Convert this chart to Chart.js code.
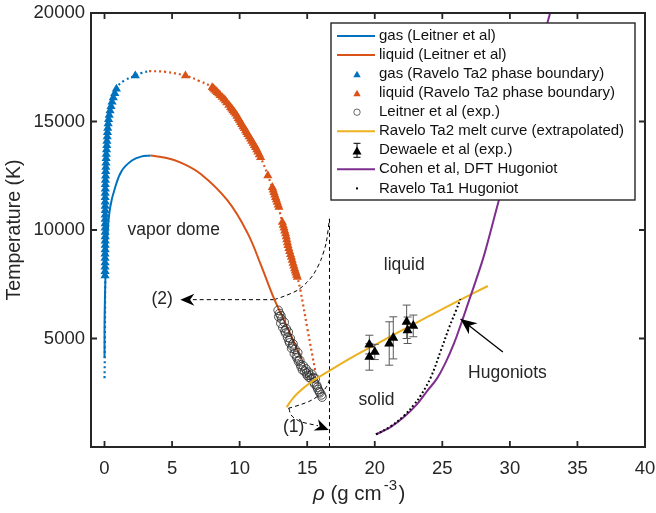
<!DOCTYPE html>
<html>
<head>
<meta charset="utf-8">
<script src="https://cdn.jsdelivr.net/npm/chart.js@4/dist/chart.umd.min.js"></script>
<style>
  html, body { margin: 0; padding: 0; background: #fff; }
  canvas { display: block; }
</style>
</head>
<body>
<canvas id="grafico" width="656" height="513"></canvas>
<script>
// densidade (g/cm3) e temperatura (K) de cada curva
const gasLeitnerRho = [0, 0.01, 0.08, 0.22, 0.42, 0.79, 1.29, 2.03, 2.7, 3.4];
const gasLeitnerT = [4100, 6000, 8000, 9800, 11050, 11970, 12740, 13200, 13380, 13430];

const liqLeitnerRho = [3.4, 4.5, 5.6, 7.1, 9.1, 10.56, 11.6, 12.54, 13.5, 14.6];
const liqLeitnerT = [13430, 13330, 13120, 12590, 11360, 9890, 8350, 6850, 5550, 4050];

// pontos (triângulos) da fronteira de fase Ravelo Ta2
const gasRaveloRho = [0.04, 0.04, 0.04, 0.04, 0.04, 0.04, 0.05, 0.05, 0.05, 0.05, 0.05, 0.05, 0.05, 0.05, 0.05,
  0.05, 0.05, 0.05, 0.05, 0.05, 0.06, 0.06, 0.07, 0.08, 0.09, 0.1, 0.11, 0.12, 0.13, 0.15, 0.17, 0.18, 0.2,
  0.22, 0.24, 0.27, 0.3, 0.35, 0.41, 0.48, 0.56, 0.65, 0.76, 0.88, 2.28];
const gasRaveloT = [7900, 8100, 8300, 8500, 8700, 8900, 9100, 9300, 9500, 9700, 9900, 10100, 10300, 10500, 10700,
  10900, 11100, 11300, 11500, 11700, 11900, 12100, 12300, 12500, 12700, 12900, 13100, 13300, 13500, 13700, 13900,
  14100, 14300, 14500, 14700, 14900, 15100, 15300, 15500, 15700, 15900, 16100, 16300, 16500, 17110];

const liqRaveloRho = [5.99, 7.97, 8.06, 8.15, 8.25, 8.34, 8.45, 8.55, 8.7, 8.83, 8.95, 9.05, 9.2, 9.33, 9.42, 9.5,
  9.6, 9.7, 9.8, 9.9, 9.98, 10.07, 10.16, 10.25, 10.35, 10.44, 10.52, 10.6, 10.7, 10.81, 10.9, 11.0, 11.09, 11.18,
  11.27, 11.35, 11.45, 11.55, 12.09, 12.42, 12.48, 12.54, 12.6, 12.66, 12.72, 12.78, 12.85, 12.91, 13.16, 13.22,
  13.28, 13.34, 13.4, 13.45, 13.49, 13.54, 13.58, 13.64, 13.7, 13.77, 13.83, 13.89, 13.95, 14.01, 14.07, 14.12,
  14.17, 14.22, 14.27];
const liqRaveloT = [17110, 16570, 16520, 16460, 16400, 16340, 16280, 16210, 16120, 16040, 15960, 15870, 15760,
  15650, 15580, 15500, 15430, 15350, 15250, 15150, 15060, 14960, 14870, 14770, 14680, 14580, 14500, 14410, 14300,
  14200, 14100, 14000, 13900, 13810, 13700, 13600, 13480, 13350, 12510, 11970, 11850, 11740, 11620, 11510, 11400,
  11280, 11160, 11050, 10360, 10230, 10100, 9960, 9830, 9700, 9560, 9420, 9290, 9150, 9020, 8880, 8750, 8610,
  8480, 8350, 8220, 8120, 8020, 7920, 7830];

// linhas pontilhadas que ligam os triângulos
const gasPontilhadoRho = [0, 0.02, 0.05, 0.07, 0.13, 0.3, 0.56, 0.92, 1.5, 2.28, 2.8, 3.3];
const gasPontilhadoT = [3170, 4100, 7900, 12300, 13500, 15100, 15900, 16570, 16900, 17110, 17250, 17320];
const liqPontilhadoRho = [3.3, 4.5, 5.99, 7.0, 7.97, 9.33, 10.81, 11.55, 12.09, 12.66, 13.16, 13.58, 14.07, 14.27,
  14.5, 15.0, 15.63];
const liqPontilhadoT = [17320, 17290, 17110, 16870, 16570, 15650, 14200, 13350, 12510, 11510, 10360, 9290, 8220,
  7830, 7220, 5500, 3400];

// medidas experimentais de Leitner (círculos)
const expLeitnerRho = [12.85, 12.95, 12.9, 13.05, 13.1, 13.05, 13.3, 13.2, 13.35, 13.45, 13.4, 13.6, 13.55, 13.65,
  13.75, 13.7, 13.95, 13.85, 13.9, 14.1, 14.05, 14.2, 14.3, 14.25, 14.35, 14.45, 14.5, 14.55, 14.7, 14.65, 14.8,
  14.9, 14.95, 15.0, 15.1, 15.2, 15.15, 15.35, 15.3, 15.45, 15.6, 15.5, 15.55, 15.7, 15.75, 15.8, 15.9, 15.95,
  16.05, 16.1];
const expLeitnerT = [6300, 6150, 6000, 6050, 5900, 5700, 5750, 5500, 5350, 5450, 5250, 5300, 5050, 4900, 5000,
  4800, 4750, 4550, 4650, 4500, 4300, 4200, 4350, 4100, 3950, 4000, 3800, 3700, 3750, 3550, 3500, 3600, 3400,
  3300, 3450, 3300, 3200, 3350, 3150, 3200, 3150, 3000, 2900, 2850, 2750, 2650, 2550, 2500, 2400, 2300];

// curva de fusão extrapolada
const fusaoRho = [13.48, 13.8, 14.27, 15.26, 16.5, 18.6, 20, 22, 24, 26, 28.37];
const fusaoT = [1830, 2130, 2470, 2980, 3460, 4230, 4700, 5370, 6030, 6680, 7420];

// Dewaele et al, com barras de erro
const dewaeleRho = [19.6, 20.0, 19.6, 21.07, 21.37, 22.36, 22.43, 22.85];
const dewaeleT = [4720, 4380, 4150, 4770, 5030, 5770, 5380, 5580];
const dewaeleErro = [430, 350, 610, 1000, 970, 770, 610, 500];

// Hugoniots
const cohenRho = [20.09, 21.2, 22.18, 23.1, 23.9, 24.6, 25.25, 25.85, 26.4, 26.95, 27.5, 28.12, 29.11, 30.0, 31.0,
  32.0, 33.0];
const cohenT = [580, 930, 1390, 1950, 2600, 3150, 3900, 4750, 5700, 6700, 7700, 8900, 11200, 13250, 15550, 17800,
  20050];
const ta1Rho = [20.09, 21.2, 22.18, 22.9, 23.42, 24.16, 24.9, 25.52, 26.02, 26.34];
const ta1T = [580, 960, 1450, 1950, 2390, 3230, 4460, 5530, 6300, 6810];

// caminhos tracejados (1) e (2)
const tracoVertRho = [16.65, 16.65];
const tracoVertT = [0, 10520];
const tracoDoisRho = [12.54, 6.5];
const tracoDoisT = [6790, 6790];
const curvaDoisRho = [12.54, 13.3, 14.27, 15.0, 15.5, 16.0, 16.4, 16.65];
const curvaDoisT = [6790, 6950, 7220, 7600, 7990, 8600, 9400, 10520];
const curvaUmRho = [13.6, 14.5, 15.3, 16.0, 16.45, 16.65];
const curvaUmT = [1780, 1950, 2150, 2450, 2800, 3100];
const setaUmRho = [13.65, 13.75, 13.95, 14.5, 15.2, 15.8];
const setaUmT = [1780, 1550, 1380, 1170, 1060, 980];

// marcas dos eixos
const ticksRho = [0, 5, 10, 15, 20, 25, 30, 35, 40];
const ticksT = [5000, 10000, 15000, 20000];

// textos escritos dentro do gráfico
const notas = [
  { texto: 'vapor dome', rho: 5.12, t: 9980 },
  { texto: 'liquid', rho: 22.18, t: 8370 },
  { texto: 'solid', rho: 20.13, t: 2160 },
  { texto: 'Hugoniots', rho: 29.82, t: 3390 },
  { texto: '(2)', rho: 4.26, t: 6790 },
  { texto: '(1)', rho: 14.0, t: 935 }
];
// setas: de onde saem e onde fica a ponta
const setas = [
  { de: [6.5, 6790], ponta: [5.61, 6790], linha: false },
  { de: [15.8, 980], ponta: [16.6, 780], linha: false },
  { de: [29.48, 4380], ponta: [26.35, 5900], linha: true }
];

const familia = '"Liberation Sans", Arial, Helvetica, sans-serif';
const corEixo = '#262626';
const azul = '#0072BD';
const laranja = '#D95319';
const amarelo = '#EDB120';
const roxo = '#7E2F8E';

function pares(xs, ys) {
  return xs.map((x, i) => ({ x: x, y: ys[i] }));
}

function linha(rotulo, xs, ys, cor, largura, ordem, extra) {
  return Object.assign({
    label: rotulo,
    data: pares(xs, ys),
    showLine: true,
    borderColor: cor,
    backgroundColor: cor,
    borderWidth: largura,
    pointRadius: 0,
    tension: 0.4,
    order: ordem
  }, extra || {});
}

function marcador(rotulo, xs, ys, estilo, raio, cor, ordem, extra) {
  return Object.assign({
    label: rotulo,
    data: pares(xs, ys),
    showLine: false,
    pointStyle: estilo,
    pointRadius: raio,
    backgroundColor: cor,
    borderColor: cor,
    borderWidth: 0,
    order: ordem
  }, extra || {});
}

const tracejado = { borderDash: [4, 3], tension: 0.3 };
const pontilhado = { borderDash: [2, 3] };

// triângulo com a mesma geometria do pointStyle 'triangle'
function triangulo(ctx, cx, cy, r) {
  ctx.beginPath();
  for (let k = 0; k < 3; k++) {
    const ang = k * 2 * Math.PI / 3;
    const px = cx + Math.sin(ang) * r;
    const py = cy - Math.cos(ang) * r;
    if (k === 0) ctx.moveTo(px, py); else ctx.lineTo(px, py);
  }
  ctx.closePath();
  ctx.fill();
}

function cabecaSeta(ctx, x0, y0, x1, y1, comp, larg) {
  const ang = Math.atan2(y1 - y0, x1 - x0);
  const ux = Math.cos(ang), uy = Math.sin(ang);
  const nx = -uy, ny = ux;
  ctx.beginPath();
  ctx.moveTo(x1, y1);
  ctx.lineTo(x1 - ux * comp + nx * larg / 2, y1 - uy * comp + ny * larg / 2);
  ctx.lineTo(x1 - ux * comp * 0.7, y1 - uy * comp * 0.7);
  ctx.lineTo(x1 - ux * comp - nx * larg / 2, y1 - uy * comp - ny * larg / 2);
  ctx.closePath();
  ctx.fill();
}

// barras de erro desenhadas logo antes dos triângulos de Dewaele
const barrasErro = {
  id: 'barrasErro',
  beforeDatasetDraw(chart, args) {
    const ds = chart.data.datasets[args.index];
    if (!ds.erros) return;
    const { ctx, scales: { x, y } } = chart;
    ctx.save();
    ctx.strokeStyle = '#595959';
    ctx.lineWidth = 1;
    ds.data.forEach((p, i) => {
      const px = x.getPixelForValue(p.x);
      const topo = y.getPixelForValue(p.y + ds.erros[i]);
      const base = y.getPixelForValue(p.y - ds.erros[i]);
      ctx.beginPath();
      ctx.moveTo(px, topo); ctx.lineTo(px, base);
      ctx.moveTo(px - 4, topo); ctx.lineTo(px + 4, topo);
      ctx.moveTo(px - 4, base); ctx.lineTo(px + 4, base);
      ctx.stroke();
    });
    ctx.restore();
  }
};

// textos e setas sobre a área do gráfico
const anotacoes = {
  id: 'anotacoes',
  afterDatasetsDraw(chart) {
    const { ctx, scales: { x, y } } = chart;
    ctx.save();
    ctx.fillStyle = corEixo;
    ctx.font = '17.5px ' + familia;
    ctx.textAlign = 'center';
    ctx.textBaseline = 'middle';
    notas.forEach(n => ctx.fillText(n.texto, x.getPixelForValue(n.rho), y.getPixelForValue(n.t)));

    ctx.fillStyle = '#000';
    ctx.strokeStyle = '#000';
    setas.forEach(s => {
      const x0 = x.getPixelForValue(s.de[0]), y0 = y.getPixelForValue(s.de[1]);
      const x1 = x.getPixelForValue(s.ponta[0]), y1 = y.getPixelForValue(s.ponta[1]);
      if (s.linha) {
        ctx.lineWidth = 1.3;
        ctx.beginPath();
        ctx.moveTo(x0, y0);
        ctx.lineTo(x1, y1);
        ctx.stroke();
        cabecaSeta(ctx, x0, y0, x1, y1, 16, 14);
      } else {
        cabecaSeta(ctx, x0, y0, x1, y1, 14, 12);
      }
    });
    ctx.restore();
  }
};

// moldura fechada com marcas para dentro, título do eixo x e legenda
const moldura = {
  id: 'moldura',
  afterDraw(chart) {
    const { ctx, chartArea: a, scales: { x, y } } = chart;
    ctx.save();
    ctx.strokeStyle = corEixo;
    ctx.lineWidth = 1.8;
    ctx.beginPath();
    ticksRho.forEach(v => {
      const px = x.getPixelForValue(v);
      ctx.moveTo(px, a.bottom); ctx.lineTo(px, a.bottom - 6);
      ctx.moveTo(px, a.top); ctx.lineTo(px, a.top + 6);
    });
    ticksT.forEach(v => {
      const py = y.getPixelForValue(v);
      ctx.moveTo(a.left, py); ctx.lineTo(a.left + 6, py);
      ctx.moveTo(a.right, py); ctx.lineTo(a.right - 6, py);
    });
    ctx.stroke();
    ctx.lineWidth = 2;
    ctx.strokeRect(a.left, a.top, a.right - a.left, a.bottom - a.top);

    // título do eixo x: rho em itálico e expoente -3
    ctx.fillStyle = corEixo;
    ctx.textBaseline = 'alphabetic';
    ctx.textAlign = 'left';
    let tx = (a.left + a.right) / 2 - 55;
    const ty = 500;
    ctx.font = 'italic 20.5px ' + familia;
    ctx.fillText('ρ', tx, ty);
    tx += ctx.measureText('ρ').width;
    ctx.font = '20.5px ' + familia;
    ctx.fillText(' (g cm', tx, ty);
    tx += ctx.measureText(' (g cm').width + 2;
    ctx.font = '15px ' + familia;
    ctx.fillText('-3', tx, ty - 10);
    tx += ctx.measureText('-3').width + 1.5;
    ctx.font = '20.5px ' + familia;
    ctx.fillText(')', tx, ty);

    // legenda
    const lx = a.right - 314, ly = a.top + 10, lw = 304, lh = 177;
    ctx.fillStyle = '#fff';
    ctx.fillRect(lx, ly, lw, lh);
    ctx.lineWidth = 1.4;
    ctx.strokeStyle = corEixo;
    ctx.strokeRect(lx, ly, lw, lh);
    const itens = chart.data.datasets.filter(d => d.legenda !== undefined)
      .sort((p, q) => p.legenda - q.legenda);
    itens.forEach((d, i) => {
      const cy = ly + 13 + i * 19.05;
      const cx = lx + 26;
      ctx.fillStyle = d.backgroundColor;
      ctx.strokeStyle = d.borderColor;
      if (d.amostra === 'linha') {
        ctx.lineWidth = 2;
        ctx.beginPath();
        ctx.moveTo(lx + 6, cy); ctx.lineTo(lx + 44, cy);
        ctx.stroke();
      } else if (d.amostra === 'triangulo') {
        triangulo(ctx, cx, cy + 1, 4.3);
      } else if (d.amostra === 'circulo') {
        ctx.lineWidth = 0.7;
        ctx.beginPath();
        ctx.arc(cx, cy, 3.2, 0, 2 * Math.PI);
        ctx.stroke();
      } else if (d.amostra === 'erro') {
        ctx.strokeStyle = '#000';
        ctx.lineWidth = 1;
        ctx.beginPath();
        ctx.moveTo(cx, cy - 7); ctx.lineTo(cx, cy + 7);
        ctx.moveTo(cx - 3.5, cy - 7); ctx.lineTo(cx + 3.5, cy - 7);
        ctx.moveTo(cx - 3.5, cy + 7); ctx.lineTo(cx + 3.5, cy + 7);
        ctx.stroke();
        ctx.fillStyle = '#000';
        triangulo(ctx, cx, cy + 1.5, 5.2);
      } else if (d.amostra === 'ponto') {
        ctx.fillStyle = '#000';
        ctx.fillRect(cx - 1, cy - 1, 2, 2);
      }
      ctx.fillStyle = '#111';
      ctx.font = '15px ' + familia;
      ctx.textBaseline = 'middle';
      ctx.fillText(d.label, lx + 48, cy);
    });
    ctx.restore();
  }
};

const graficoFases = new Chart(document.getElementById('grafico'), {
  type: 'scatter',
  data: {
    datasets: [
      linha('gas (Leitner et al)', gasLeitnerRho, gasLeitnerT, azul, 2, 18, { legenda: 0, amostra: 'linha' }),
      linha('liquid (Leitner et al)', liqLeitnerRho, liqLeitnerT, laranja, 2, 18, { legenda: 1, amostra: 'linha' }),
      marcador('gas (Ravelo Ta2 phase boundary)', gasRaveloRho, gasRaveloT, 'triangle', 5.3, azul, 14,
        { legenda: 2, amostra: 'triangulo' }),
      marcador('liquid (Ravelo Ta2 phase boundary)', liqRaveloRho, liqRaveloT, 'triangle', 5.3, laranja, 14,
        { legenda: 3, amostra: 'triangulo' }),
      marcador('Leitner et al (exp.)', expLeitnerRho, expLeitnerT, 'circle', 4.3, 'rgba(0,0,0,0)', 12,
        { borderColor: '#2a2a2a', borderWidth: 0.8, legenda: 4, amostra: 'circulo' }),
      linha('Ravelo Ta2 melt curve (extrapolated)', fusaoRho, fusaoT, amarelo, 2, 10, { legenda: 5, amostra: 'linha' }),
      marcador('Dewaele et al (exp.)', dewaeleRho, dewaeleT, 'triangle', 5.8, '#000', 8,
        { erros: dewaeleErro, legenda: 6, amostra: 'erro' }),
      linha('Cohen et al, DFT Hugoniot', cohenRho, cohenT, roxo, 2, 6, { legenda: 7, amostra: 'linha' }),
      linha('Ravelo Ta1 Hugoniot', ta1Rho, ta1T, '#000', 2, 4, { borderDash: [1.8, 2.4], legenda: 8, amostra: 'ponto' }),
      linha('gas Ravelo Ta2 (linha)', gasPontilhadoRho, gasPontilhadoT, azul, 2.2, 16, pontilhado),
      linha('liquid Ravelo Ta2 (linha)', liqPontilhadoRho, liqPontilhadoT, laranja, 2.2, 16, pontilhado),
      linha('caminho vertical', tracoVertRho, tracoVertT, '#000', 1, 20, tracejado),
      linha('caminho (2)', tracoDoisRho, tracoDoisT, '#000', 1, 20, tracejado),
      linha('curva (2)', curvaDoisRho, curvaDoisT, '#000', 1, 20, tracejado),
      linha('curva (1)', curvaUmRho, curvaUmT, '#000', 1, 20, tracejado),
      linha('seta (1)', setaUmRho, setaUmT, '#000', 1, 20, tracejado)
    ]
  },
  options: {
    responsive: false,
    animation: false,
    layout: { padding: { top: 13, right: 11, left: 0, bottom: 0 } },
    plugins: {
      legend: { display: false },
      tooltip: { enabled: false }
    },
    scales: {
      x: {
        type: 'linear',
        min: -1,
        max: 40,
        afterBuildTicks: (escala) => { escala.ticks = ticksRho.map(v => ({ value: v })); },
        afterFit: (escala) => {
          escala.height = 66;
          escala.paddingLeft = 0;
          escala.paddingRight = 0;
        },
        grid: { display: false, drawTicks: false },
        border: { display: false },
        ticks: {
          padding: 11,
          autoSkip: false,
          maxRotation: 0,
          color: corEixo,
          font: { family: familia, size: 18.5 },
          callback: (v) => String(v)
        }
      },
      y: {
        type: 'linear',
        min: 0,
        max: 20000,
        afterBuildTicks: (escala) => { escala.ticks = ticksT.map(v => ({ value: v })); },
        afterFit: (escala) => {
          escala.width = 91;
          escala.paddingTop = 0;
          escala.paddingBottom = 0;
        },
        grid: { display: false, drawTicks: false },
        border: { display: false },
        ticks: {
          padding: 6,
          autoSkip: false,
          color: corEixo,
          font: { family: familia, size: 18.5 },
          callback: (v) => String(v)
        },
        title: {
          display: true,
          text: 'Temperature (K)',
          color: corEixo,
          font: { family: familia, size: 19.5 },
          padding: { top: 3, bottom: 0 }
        }
      }
    }
  },
  plugins: [barrasErro, anotacoes, moldura]
});
</script>
</body>
</html>
